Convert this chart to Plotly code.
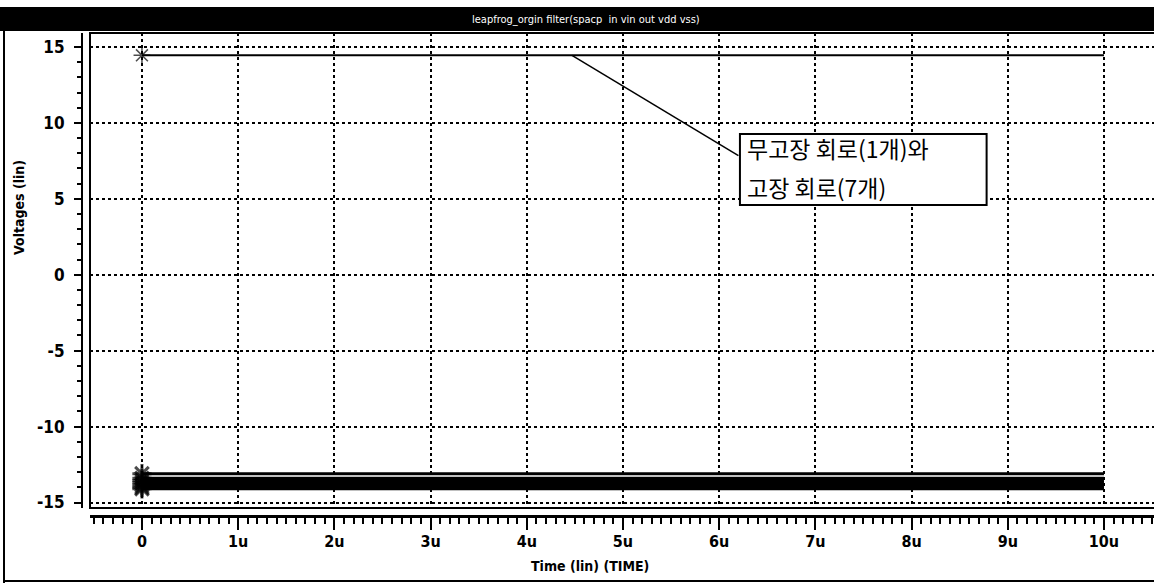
import plotly.graph_objects as go

# ---- data ----
time_us = [0, 10]                      # time axis in microseconds
good_circuit = [14.45, 14.45]          # fault-free circuit (1)
faulty_circuits = [                    # faulty circuits (7)
    [-13.10, -13.10],
    [-13.40, -13.40],
    [-13.55, -13.55],
    [-13.70, -13.70],
    [-13.85, -13.85],
    [-14.00, -14.00],
    [-14.10, -14.10],
]
x_tickvals = [0, 1, 2, 3, 4, 5, 6, 7, 8, 9, 10]
x_ticktext = ["0", "1u", "2u", "3u", "4u", "5u", "6u", "7u", "8u", "9u", "10u"]
y_tickvals = [15, 10, 5, 0, -5, -10, -15]
y_ticktext = ["15", "10", "5", "0", "-5", "-10", "-15"]

title_text = "leapfrog_orgin filter(spacp  in vin out vdd vss)"
note_line1 = "무고장 회로(1개)와"
note_line2 = "고장 회로(7개)"

# ---- layout helpers (pixel -> paper) ----
FW, FH = 1154, 583
L, R, T, B = 82, 0, 33, 67
PW, PH = FW - L - R, FH - T - B


def px(xp):
    return (xp - L) / PW


def py(yp):
    return (FH - B - yp) / PH


NARROW = "Liberation Sans Narrow, DejaVu Sans Condensed, Arial Narrow, sans-serif"

fig = go.Figure()

fig.add_trace(go.Scatter(
    x=time_us, y=good_circuit, mode="lines+markers",
    line=dict(color="black", width=2),
    marker=dict(symbol="asterisk-open", size=[14, 0], color="black",
                line=dict(color="black", width=1.5)),
    showlegend=False, hoverinfo="skip"))

for ys in faulty_circuits:
    fig.add_trace(go.Scatter(
        x=time_us, y=ys, mode="lines+markers",
        line=dict(color="black", width=3),
        marker=dict(symbol="asterisk-open", size=[16, 0], color="black",
                    line=dict(color="black", width=3)),
        showlegend=False, hoverinfo="skip"))

grid = dict(showgrid=True, gridcolor="black", gridwidth=1.5, griddash="3px,3px")

fig.update_layout(
    width=FW, height=FH,
    margin=dict(l=L, r=R, t=T, b=B),
    paper_bgcolor="white", plot_bgcolor="white",
    xaxis=dict(
        domain=[px(90), 1], range=[-0.54, 10.52],
        anchor="free", position=0,
        tickmode="array", tickvals=x_tickvals, ticktext=x_ticktext,
        ticks="outside", ticklen=12, tickwidth=2, tickcolor="black",
        ticklabelstandoff=-2,
        minor=dict(dtick=0.1, ticks="outside", ticklen=6, tickwidth=1.5,
                   tickcolor="black", showgrid=False),
        showline=True, linecolor="black", linewidth=3,
        zeroline=False,
        tickfont=dict(family=NARROW, size=16, color="black", weight="bold"),
        **grid),
    yaxis=dict(
        domain=[py(508), 1], range=[-15.36, 15.92],
        anchor="free", position=0,
        tickmode="array", tickvals=y_tickvals, ticktext=y_ticktext,
        ticks="outside", ticklen=7, tickwidth=2, tickcolor="black",
        ticklabelstandoff=6,
        minor=dict(dtick=1, ticks="outside", ticklen=4, tickwidth=1.5,
                   tickcolor="black", showgrid=False),
        showline=True, linecolor="black", linewidth=2,
        zeroline=False,
        tickfont=dict(family=NARROW, size=17, color="black", weight="bold"),
        **grid),
)

shapes = [
    # title bar
    dict(type="rect", xref="paper", yref="paper", x0=px(0), x1=px(FW), y0=py(31), y1=py(7),
         fillcolor="black", line=dict(width=0), layer="above"),
    # window frame left & bottom
    dict(type="line", xref="paper", yref="paper", x0=px(4), x1=px(4), y0=py(FH), y1=py(7),
         line=dict(color="black", width=2)),
    dict(type="line", xref="paper", yref="paper", x0=px(4), x1=px(FW), y0=py(581), y1=py(581),
         line=dict(color="black", width=2)),
    # plot frame
    dict(type="rect", xref="x domain", yref="y domain", x0=0, x1=1.005, y0=0, y1=1,
         line=dict(color="black", width=2), layer="above"),
    # leader line
    dict(type="line", xref="x", yref="y", x0=4.47, y0=14.45, x1=6.2, y1=7.85,
         line=dict(color="black", width=1.5), layer="above"),
    # note box
    dict(type="rect", xref="x", yref="y", x0=6.216, x1=8.78, y0=4.59, y1=9.27,
         fillcolor="white", line=dict(color="black", width=2), layer="above"),
]
fig.update_layout(shapes=shapes)

KFONT = "Noto Sans CJK KR, sans-serif"
annotations = [
    dict(text=title_text, xref="paper", yref="paper", x=px(586), y=py(19),
         showarrow=False, xanchor="center", yanchor="middle",
         font=dict(family=NARROW, size=11, color="white")),
    dict(text="Voltages (lin)", xref="paper", yref="paper", x=px(19), y=py(208),
         showarrow=False, textangle=-90, xanchor="center", yanchor="middle",
         font=dict(family=NARROW, size=14, color="black", weight="bold")),
    dict(text="Time (lin) (TIME)", xref="paper", yref="paper", x=px(590), y=py(566),
         showarrow=False, xanchor="center", yanchor="middle",
         font=dict(family=NARROW, size=14, color="black", weight="bold")),
    dict(text=note_line1, xref="x", yref="y", x=6.27, y=8.35,
         showarrow=False, xanchor="left", yanchor="middle",
         font=dict(family=KFONT, size=23, color="black")),
    dict(text=note_line2, xref="x", yref="y", x=6.27, y=5.78,
         showarrow=False, xanchor="left", yanchor="middle",
         font=dict(family=KFONT, size=23, color="black")),
]
fig.update_layout(annotations=annotations)

fig.write_html(
    "out.html",
    config={"displayModeBar": False},
    post_script="document.body.style.margin='0';document.body.style.overflow='hidden';",
)
